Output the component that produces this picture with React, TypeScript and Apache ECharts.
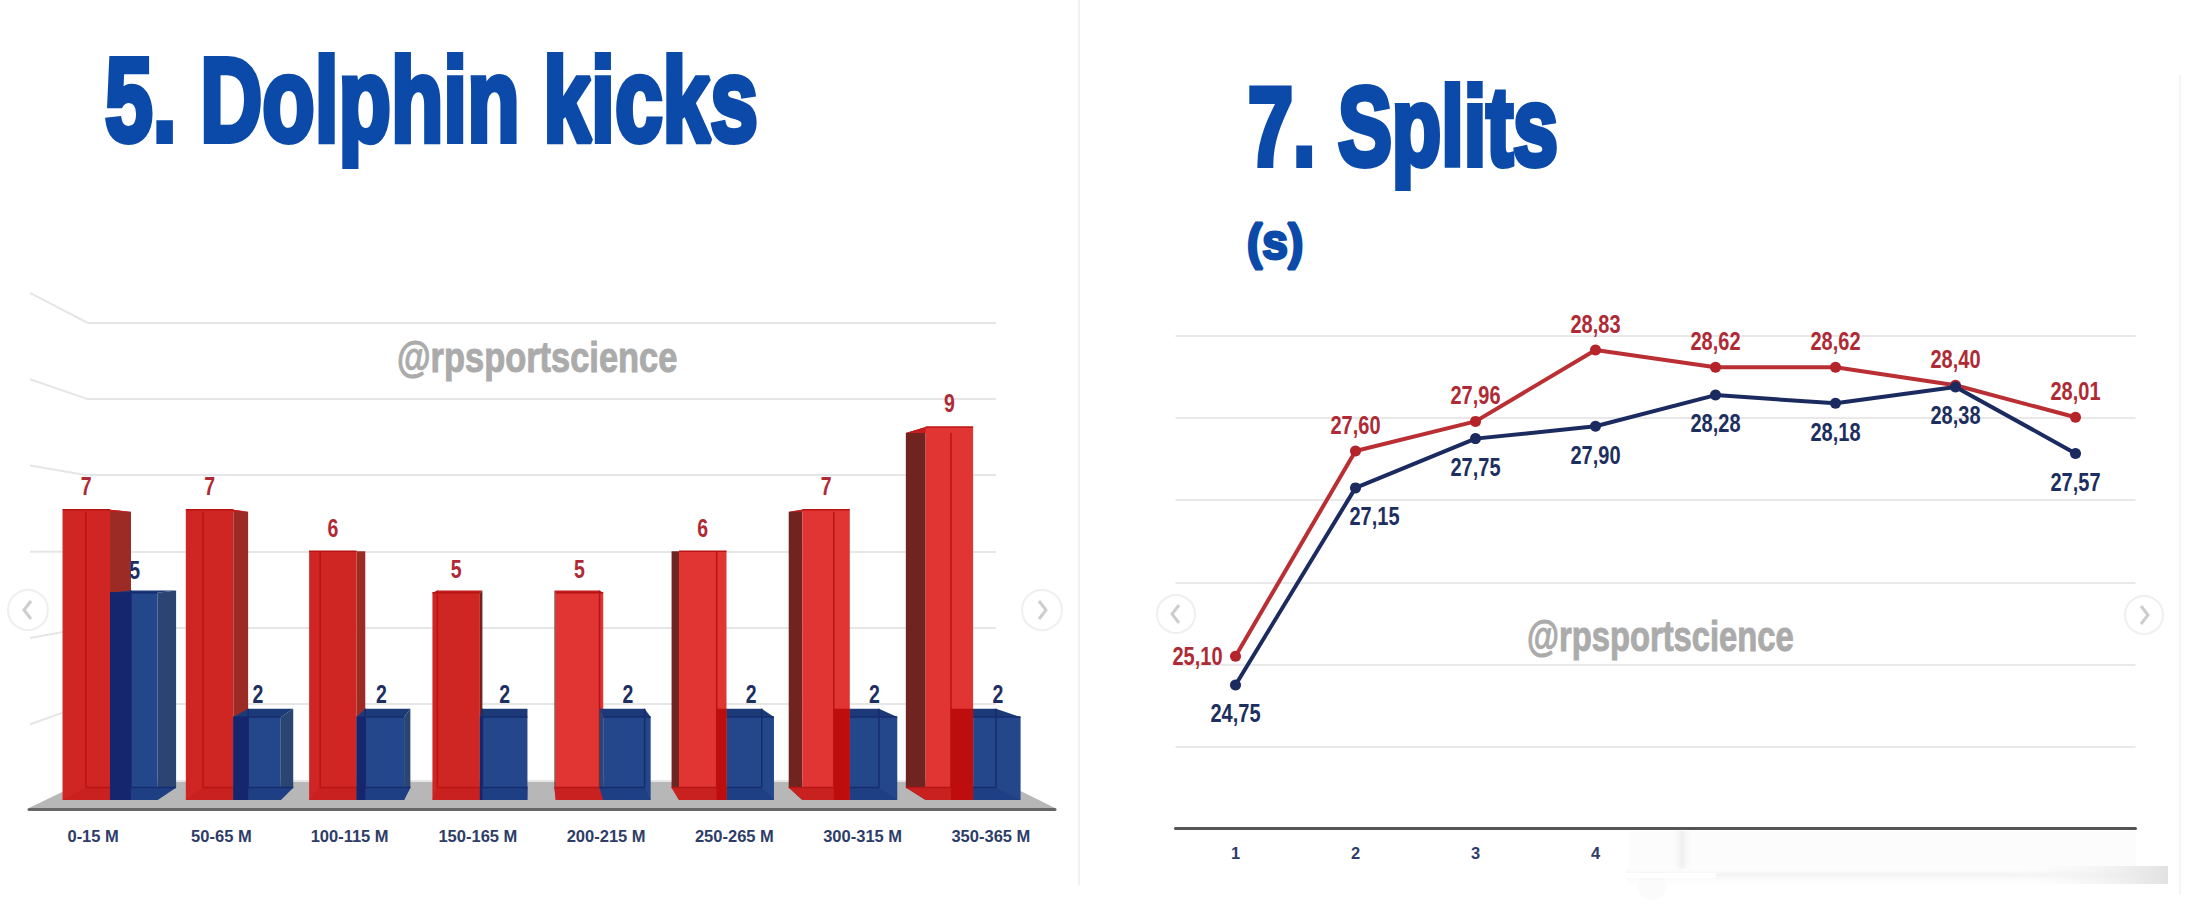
import React, { useEffect, useRef } from "react";
import * as echarts from "echarts";

// ---- data ----
const kickRanges = ["0-15 M", "50-65 M", "100-115 M", "150-165 M", "200-215 M", "250-265 M", "300-315 M", "350-365 M"];
const kicksRed = [7, 7, 6, 5, 5, 6, 7, 9];
const kicksBlue = [5, 2, 2, 2, 2, 2, 2, 2];
const wallTicks = [2, 4, 6, 8, 10, 12];
const splitSlots = ["1", "2", "3", "4", "", "", "", ""];
const splitsRed = [25.1, 27.6, 27.96, 28.83, 28.62, 28.62, 28.4, 28.01];
const splitsBlue = [24.75, 27.15, 27.75, 27.9, 28.28, 28.18, 28.38, 27.57];

// ---- styles ----
const TITLE = "#0b4aa9";
const WIDE = '"Liberation Sans", sans-serif';
const RED_TEXT = "#b02a35";
const NAVY_TEXT = "#1d2f60";
const VX = 530;
const VY = 550;
const DEPTH = 0.05;

const back = (x: number, y: number) => [x + (VX - x) * DEPTH, y + (VY - y) * DEPTH];
const poly = (points: number[][], fill: string) => ({ type: "polygon", shape: { points }, style: { fill } });
const seg = (a: number[], b: number[], stroke: string, lineWidth = 1.5) => ({
  type: "line",
  shape: { x1: a[0], y1: a[1], x2: b[0], y2: b[1] },
  style: { stroke, lineWidth },
});
const narrowText = (text: string, x: number, y: number, size: number, fill: string, scaleX: number) => ({
  type: "text",
  x,
  y,
  scaleX,
  style: {
    text,
    x: 0,
    y: 0,
    textAlign: "center",
    textVerticalAlign: "middle",
    fontFamily: WIDE,
    fontWeight: "bold",
    fontSize: size,
    fill,
  },
});

type Pal = { front: string; side: string; top: string; floor: string; edge: string };

function box(xL: number, xR: number, yT: number, y0: number, p: Pal) {
  const bTL = back(xL, yT), bTR = back(xR, yT), bBL = back(xL, y0), bBR = back(xR, y0);
  const out: any[] = [];
  if (xR < VX) out.push(poly([[xR, yT], bTR, bBR, [xR, y0]], p.side));
  if (xL > VX) out.push(poly([[xL, yT], bTL, bBL, [xL, y0]], p.side));
  out.push(poly([[xL, yT], [xR, yT], bTR, bTL], p.top));
  out.push(poly([[xL, yT], [xR, yT], [xR, y0], [xL, y0]], p.front));
  out.push(poly([bBL, bBR, [xR, y0], [xL, y0]], p.floor));
  if (bTL[0] > xL && bTL[0] < xR) out.push(seg(bTL, bBL, p.edge));
  if (bTR[0] > xL && bTR[0] < xR) out.push(seg(bTR, bBR, p.edge));
  out.push(seg(bBL, bBR, p.edge));
  out.push(seg([xL, yT], [xR, yT], p.edge));
  return out;
}

function renderPair(_: any, api: any) {
  const i = api.value(0);
  const band = api.size([1, 0])[0];
  const w = band * 0.385;
  const zero = api.coord([i, 0]);
  const cx = zero[0];
  const y0 = zero[1];
  const yRed = api.coord([i, api.value(1)])[1];
  const yBlue = api.coord([i, api.value(2)])[1];
  const leftSide = cx < VX + 100;
  const redPal: Pal = {
    front: i < 4 ? "#cf2623" : "#e03533",
    side: i < 3 ? "#9d2b25" : "#6f241f",
    top: "#c31d1d",
    floor: "#c92020",
    edge: "#b81414",
  };
  const bluePal: Pal = { front: "#24478c", side: "#2a4572", top: "#1d3a78", floor: "#1f3f85", edge: "#162c6e" };
  const red = box(cx - w, cx, yRed, y0, redPal);
  const blue = box(cx, cx + w, yBlue, y0, bluePal);
  const texts = [
    narrowText(String(api.value(1)), cx - w / 2, yRed - 23, 25, RED_TEXT, 0.78),
    narrowText(String(api.value(2)), cx + w / 2 + 1, yBlue - 22, 25, NAVY_TEXT, 0.78),
  ];
  let overlap: any[] = [];
  if (leftSide) {
    const edge = back(cx, yRed)[0];
    if (edge > cx) overlap = [poly([[cx, yBlue], [edge, yBlue], [edge, y0], [cx, y0]], "#15266f")];
    return { type: "group", children: [...red, ...blue, ...overlap, ...texts] };
  }
  const b = back(cx, yBlue);
  if (b[0] < cx) overlap = [poly([[b[0], b[1]], [cx, b[1]], [cx, y0], [b[0], y0]], "#bd0d0d")];
  return { type: "group", children: [...blue, ...red, ...overlap, ...texts] };
}

function renderWallEdge(_: any, api: any) {
  const p = api.coord([0, api.value(1)]);
  return {
    type: "line",
    shape: { x1: p[0], y1: p[1], x2: p[0] - 57, y2: p[1] + (p[1] - VY) * 0.13 },
    style: { stroke: "#e6e6e6", lineWidth: 2 },
  };
}

const fmt = (v: number) => v.toFixed(2).replace(".", ",");

function renderRedLabel(_: any, api: any) {
  const i = api.value(0);
  const p = api.coord([i, api.value(1)]);
  const dx = i === 0 ? -38 : 0;
  const dy = i === 0 ? 1 : -25.5;
  return narrowText(fmt(api.value(1)), p[0] + dx, p[1] + dy, 25, RED_TEXT, 0.8);
}

function renderBlueLabel(_: any, api: any) {
  const i = api.value(0);
  const p = api.coord([i, api.value(1)]);
  const dx = i === 1 ? 19 : 0;
  return narrowText(fmt(api.value(1)), p[0] + dx, p[1] + 29, 25, NAVY_TEXT, 0.8);
}

const arrow = (x: number, y: number, r: number, dir: number) => [
  {
    type: "circle",
    z: 50,
    shape: { cx: x, cy: y, r },
    style: { fill: "rgba(255,255,255,0.85)", stroke: "#efefef", lineWidth: 2 },
  },
  {
    type: "polyline",
    z: 51,
    shape: { points: [[x - 3 * dir, y - 9], [x + 4 * dir, y], [x - 3 * dir, y + 9]] },
    style: { stroke: "#cdcdcd", lineWidth: 3, fill: "none" },
  },
];

const bigText = (text: string, x: number, y: number, size: number, scaleX: number, fill: string, lineWidth: number) => ({
  type: "text",
  x,
  y,
  scaleX,
  z: 10,
  style: {
    text,
    x: 0,
    y: 0,
    textAlign: "left",
    textVerticalAlign: "middle",
    fontFamily: WIDE,
    fontWeight: "bold",
    fontSize: size,
    fill,
    stroke: fill,
    lineWidth,
  },
});

const vFade = (c: string) => ({
  type: "linear", x: 0, y: 0, x2: 0, y2: 1,
  colorStops: [{ offset: 0, color: "rgba(255,255,255,0)" }, { offset: 0.5, color: c }, { offset: 1, color: "rgba(255,255,255,0)" }],
});
const hFade = (c: string) => ({
  type: "linear", x: 0, y: 0, x2: 1, y2: 0,
  colorStops: [{ offset: 0, color: "rgba(255,255,255,0)" }, { offset: 0.5, color: c }, { offset: 1, color: "rgba(255,255,255,0)" }],
});
const rampRight = (c: string) => ({
  type: "linear", x: 0, y: 0, x2: 1, y2: 0,
  colorStops: [{ offset: 0, color: "rgba(255,255,255,0)" }, { offset: 1, color: c }],
});

const graphics: any[] = [
  { type: "line", shape: { x1: 1079, y1: 0, x2: 1079, y2: 885 }, style: { stroke: "#f1f1f1", lineWidth: 2 } },
  { type: "line", shape: { x1: 2180, y1: 75, x2: 2180, y2: 895 }, style: { stroke: "#f5f5f5", lineWidth: 2 } },
  bigText("5. Dolphin kicks", 105, 100, 118, 0.727, TITLE, 6),
  bigText("7. Splits", 1248, 127, 112, 0.722, TITLE, 6),
  bigText("(s)", 1247, 242, 50, 0.92, TITLE, 3),
  bigText("@rpsportscience", 397, 357.5, 42, 0.82, "#ababab", 1),
  bigText("@rpsportscience", 1527, 636.5, 42, 0.78, "#ababab", 1),
  {
    type: "polygon",
    shape: { points: [[87, 780], [998, 780], [1055, 808], [29, 808]] },
    style: { fill: "#b7b7b7" },
  },
  ...arrow(28, 610, 20, -1),
  ...arrow(1042, 610, 20, 1),
  ...arrow(1176, 614, 19, -1),
  ...arrow(2144, 615, 19, 1),
  { type: "rect", z: 5, shape: { x: 1630, y: 831, width: 506, height: 36 }, style: { fill: "#fcfcfc" } },
  { type: "rect", z: 5, shape: { x: 1671, y: 831, width: 22, height: 38 }, style: { fill: hFade("#eeeeee") } },
  { type: "circle", z: 5, shape: { cx: 1652, cy: 886, r: 14 }, style: { fill: "#fbfbfb" } },
  { type: "rect", z: 6, shape: { x: 1626, y: 864, width: 542, height: 22 }, style: { fill: vFade("#f3f3f3") } },
  { type: "rect", z: 6, shape: { x: 2000, y: 866, width: 168, height: 18 }, style: { fill: rampRight("#e2e2e2") } },
  { type: "rect", z: 7, shape: { x: 1626, y: 873, width: 90, height: 5 }, style: { fill: "#ffffff" } },
];

const hidden = { show: false };
const tickFont = { fontFamily: WIDE, fontWeight: "bold", fontSize: 16.5, color: "#2e3d68", interval: 0 };

const option: any = {
  animation: false,
  backgroundColor: "#ffffff",
  graphic: { elements: graphics },
  grid: [
    { left: 48.35, width: 986.4, top: 385.5, height: 414.5 },
    { left: 29, width: 1026, top: 700, height: 109 },
    { left: 87, width: 909, top: 322.5, height: 458 },
    { left: 1175.5, width: 960, top: 336, height: 492.6 },
  ],
  xAxis: [
    { type: "category", gridIndex: 0, data: kickRanges, ...hidden },
    {
      type: "category",
      gridIndex: 1,
      data: kickRanges,
      axisLine: { lineStyle: { color: "#666666", width: 3 } },
      axisTick: hidden,
      axisLabel: { margin: 18, ...tickFont },
    },
    { type: "value", gridIndex: 2, min: 0, max: 1, ...hidden },
    {
      type: "category",
      gridIndex: 3,
      data: splitSlots,
      axisLine: { lineStyle: { color: "#555555", width: 3 } },
      axisTick: hidden,
      axisLabel: { margin: 16, ...tickFont },
    },
  ],
  yAxis: [
    { type: "value", gridIndex: 0, min: 0, max: 10, ...hidden },
    { type: "value", gridIndex: 1, min: 0, max: 1, ...hidden },
    {
      type: "value",
      gridIndex: 2,
      min: 0,
      max: 12,
      interval: 2,
      axisLine: hidden,
      axisTick: hidden,
      axisLabel: hidden,
      splitLine: { lineStyle: { color: "#e6e6e6", width: 2 } },
    },
    {
      type: "value",
      gridIndex: 3,
      min: 23,
      max: 29,
      interval: 1,
      axisLine: hidden,
      axisTick: hidden,
      axisLabel: hidden,
      splitLine: { lineStyle: { color: "#e9e9e9", width: 2 } },
    },
  ],
  series: [
    {
      type: "custom",
      xAxisIndex: 2,
      yAxisIndex: 2,
      renderItem: renderWallEdge,
      data: wallTicks.map((v) => [0, v]),
      encode: { x: 0, y: 1 },
      silent: true,
    },
    {
      type: "custom",
      xAxisIndex: 0,
      yAxisIndex: 0,
      z: 3,
      renderItem: renderPair,
      data: kickRanges.map((_, i) => [i, kicksRed[i], kicksBlue[i]]),
      encode: { x: 0, y: [1, 2] },
      silent: true,
    },
    {
      type: "line",
      xAxisIndex: 3,
      yAxisIndex: 3,
      data: splitsRed,
      symbol: "circle",
      symbolSize: 11,
      lineStyle: { color: "#b92f33", width: 4 },
      itemStyle: { color: "#b5232b" },
    },
    {
      type: "line",
      xAxisIndex: 3,
      yAxisIndex: 3,
      data: splitsBlue,
      symbol: "circle",
      symbolSize: 11,
      lineStyle: { color: "#1b2b60", width: 4 },
      itemStyle: { color: "#1b2b60" },
    },
    {
      type: "custom",
      xAxisIndex: 3,
      yAxisIndex: 3,
      z: 4,
      renderItem: renderRedLabel,
      data: splitsRed.map((v, i) => [i, v]),
      encode: { x: 0, y: 1 },
      silent: true,
    },
    {
      type: "custom",
      xAxisIndex: 3,
      yAxisIndex: 3,
      z: 4,
      renderItem: renderBlueLabel,
      data: splitsBlue.map((v, i) => [i, v]),
      encode: { x: 0, y: 1 },
      silent: true,
    },
  ],
};

export default function App() {
  const ref = useRef<HTMLDivElement>(null);
  useEffect(() => {
    document.body.style.margin = "0";
    const chart = echarts.init(ref.current!, undefined, { renderer: "svg" });
    chart.setOption(option);
    return () => chart.dispose();
  }, []);
  return <div ref={ref} style={{ width: 2186, height: 918 }} />;
}
